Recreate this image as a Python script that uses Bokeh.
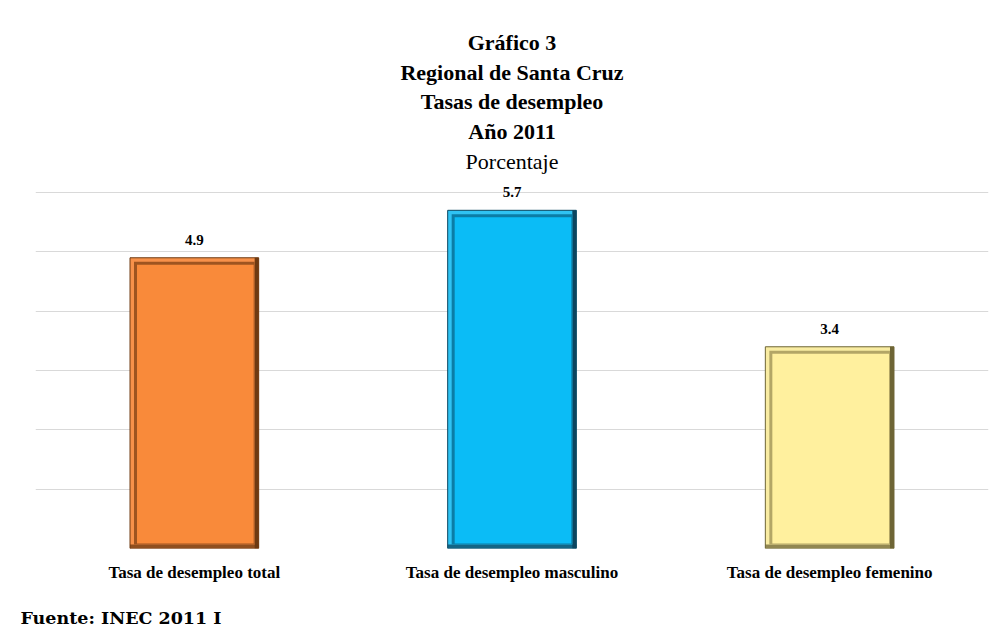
from bokeh.plotting import figure
from bokeh.models import Range1d, FixedTicker, Label, Title, ColumnDataSource
from bokeh.core.properties import value
from bokeh.embed import file_html
from bokeh.resources import INLINE

# ---- data ----
categories = ["Tasa de desempleo total", "Tasa de desempleo masculino", "Tasa de desempleo femenino"]
rates = [4.9, 5.7, 3.4]
rate_labels = ["4.9", "5.7", "3.4"]
y_ticks = [0, 1, 2, 3, 4, 5, 6]
title_lines = ["Gráfico 3", "Regional de Santa Cruz", "Tasas de desempleo", "Año 2011"]
subtitle = "Porcentaje"
source_note = "Fuente: INEC 2011  I"

# ---- styles ----
main_colors = ["#F98A3A", "#0BBCF6", "#FFF09E"]
rim_colors = ["#F7914A", "#2FC3F3", "#F9ECA2"]
shadow_colors = ["#6E3A12", "#0B4660", "#6E6535"]
inner_shadow = ["#9E5420", "#0B7DA6", "#B3A666"]
SERIF = "Liberation Serif"

W, H = 1005, 632
BAR_W = 0.405
p = figure(width=W, height=H, output_backend="svg", toolbar_location=None,
           x_axis_location="below", y_axis_location=None,
           min_border_left=35, min_border_right=17, min_border_top=0, min_border_bottom=84)
p.x_range = Range1d(0, len(categories))
p.y_range = Range1d(0, 9.236)
p.outline_line_color = None
p.background_fill_color = "#FFFFFF"
p.border_fill_color = "#FFFFFF"
p.xgrid.visible = False
p.ygrid.ticker = FixedTicker(ticks=y_ticks)
p.ygrid.grid_line_color = "#D9D9D9"
p.ygrid.grid_line_width = 1

# pixel-to-data factors for the bevel styling
XPX = len(categories) / 953.0
YPX = 9.236 / 548.0

xs = [i + 0.5 for i in range(len(categories))]
lefts = [x - BAR_W / 2 for x in xs]
rights = [x + BAR_W / 2 for x in xs]

src = ColumnDataSource(dict(
    x=xs, top=rates, lab=rate_labels, main=main_colors, rim=rim_colors,
    shadow=shadow_colors, ishadow=inner_shadow,
    l=lefts, r=rights,
    sh_l=[r - 4 * XPX for r in rights],
    in_l=[l + 4 * XPX for l in lefts], in_r=[r - 4 * XPX for r in rights],
    in_t=[t - 4 * YPX for t in rates],
    c_l=[l + 7 * XPX for l in lefts], c_r=[r - 5 * XPX for r in rights],
    c_t=[t - 7 * YPX for t in rates],
))

# outer rim
p.quad(left="l", right="r", top="top", bottom=0, source=src, fill_color="rim",
       line_color="shadow", line_width=1)
# right-side shadow strip
p.quad(left="sh_l", right="r", top="top", bottom=0, source=src, fill_color="shadow",
       line_color=None)
# bottom shadow strip
p.quad(left="l", right="r", top=4 * YPX, bottom=0, source=src, fill_color="shadow",
       line_color=None, fill_alpha=0.75)
# inner shadow (top-left)
p.quad(left="in_l", right="in_r", top="in_t", bottom=4 * YPX, source=src, fill_color="ishadow",
       line_color=None)
# main face
p.quad(left="c_l", right="c_r", top="c_t", bottom=5 * YPX, source=src, fill_color="main",
       line_color=None)

# value labels
p.text(x="x", y="top", text="lab", source=src, text_align="center", text_baseline="bottom",
       y_offset=-13, text_font=value(SERIF), text_font_style="bold", text_font_size="15px",
       text_color="#000000")

# x axis
ax = p.xaxis[0]
ax.ticker = FixedTicker(ticks=xs)
ax.major_label_overrides = {x: c for x, c in zip(xs, categories)}
ax.axis_line_color = None
ax.major_tick_line_color = None
ax.minor_tick_line_color = None
ax.major_tick_out = 0
ax.major_tick_in = 0
ax.major_label_standoff = 14
ax.major_label_text_font = SERIF
ax.major_label_text_font_style = "bold"
ax.major_label_text_font_size = "17px"
ax.major_label_text_color = "#000000"

# title block
ys = [8.53, 8.02, 7.534, 7.03]
for t, yy in zip(title_lines, ys):
    p.add_layout(Label(x=1.5, y=yy, text=t, text_align="center", text_baseline="middle",
                       text_font=SERIF, text_font_style="bold", text_font_size="22px",
                       text_color="#000000"))
p.add_layout(Label(x=1.5, y=6.52, text=subtitle, text_align="center", text_baseline="middle",
                   text_font=SERIF, text_font_style="normal", text_font_size="22px",
                   text_color="#000000"))

# spacer + source note below the axis
p.add_layout(Title(text=" ", standoff=0, text_font_size="12px"), "below")
p.add_layout(Title(text=source_note, align="left", offset=-15, standoff=10,
                   text_font="DejaVu Serif", text_font_style="bold", text_font_size="17.5px",
                   text_color="#000000"), "below")

open("out.html", "w").write(file_html(p, INLINE))
